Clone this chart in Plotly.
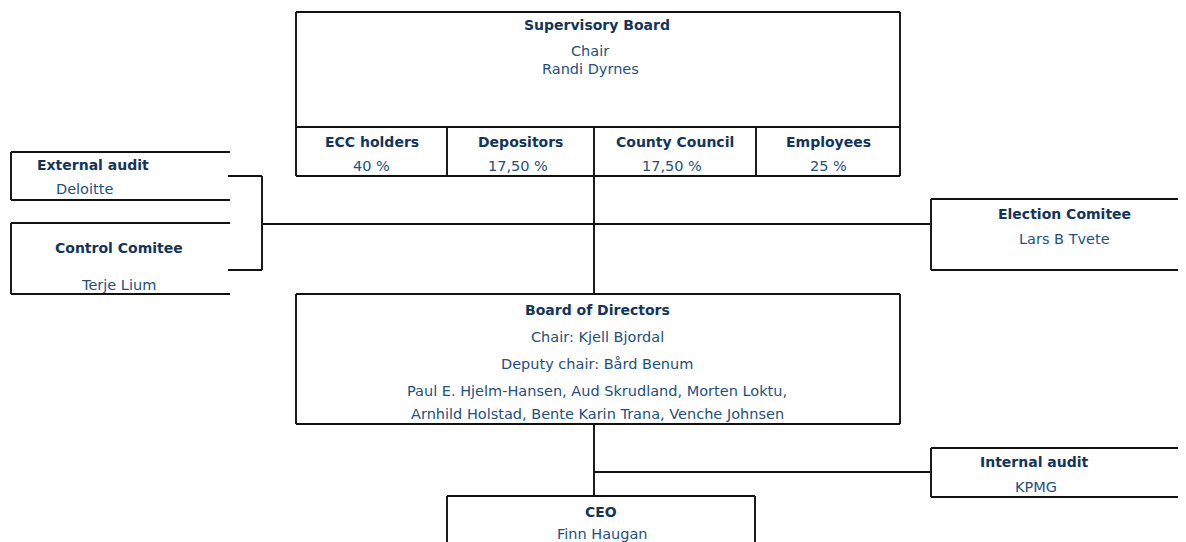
import plotly.graph_objects as go

# ---- data (text content) ----
sup_title = "Supervisory Board"
sup_lines = ["Chair", "Randi Dyrnes"]
sup_groups = ["ECC holders", "Depositors", "County Council", "Employees"]
sup_shares = ["40 %", "17,50 %", "17,50 %", "25 %"]

side_titles = ["External  audit", "Control Comitee", "Election  Comitee", "Internal  audit"]
side_names = ["Deloitte", "Terje Lium", "Lars B Tvete", "KPMG"]

bod_title = "Board of Directors"
bod_lines = ["Chair: Kjell Bjordal", "Deputy chair: Bård Benum",
             "Paul E. Hjelm-Hansen, Aud Skrudland, Morten Loktu,",
             "Arnhild Holstad, Bente Karin Trana, Venche Johnsen"]

ceo_title = "CEO"
ceo_name = "Finn Haugan"

# ---- layout geometry (pixel canvas; page has an 8px body margin) ----
W, H = 1186, 542
OFF = 8
BOLD_C = "#12355E"
TEXT_C = "#23507F"
LINE_C = "#111111"
FONT = "DejaVu Sans, Verdana, sans-serif"
BOLD_SIZE = 14
TEXT_SIZE = 14.5

fig = go.Figure()
shapes = []
annos = []

def line(x0, y0, x1, y1, w=1.9):
    shapes.append(dict(type="line", xref="x", yref="y", x0=x0, y0=y0, x1=x1, y1=y1,
                       line=dict(color=LINE_C, width=w)))

def box(x0, y0, x1, y1, sides="ltrb"):
    if "l" in sides: line(x0, y0, x0, y1)
    if "t" in sides: line(x0, y0, x1, y0)
    if "r" in sides: line(x1, y0, x1, y1)
    if "b" in sides: line(x0, y1, x1, y1)

def text(x, y, s, bold=False):
    annos.append(dict(x=x, y=y, xref="x", yref="y", text=f"<b>{s}</b>" if bold else s,
                      showarrow=False, xanchor="center", yanchor="middle",
                      font=dict(family=FONT, size=BOLD_SIZE if bold else TEXT_SIZE,
                                color=BOLD_C if bold else TEXT_C)))

# Supervisory board
sb = dict(x0=296, y0=12, x1=900, y1=127, y2=176)
box(sb["x0"], sb["y0"], sb["x1"], sb["y2"])
line(sb["x0"], sb["y1"], sb["x1"], sb["y1"])
cell_x = [296, 447, 594, 756, 900]
for cx in cell_x[1:-1]:
    line(cx, sb["y1"], cx, sb["y2"])
text(597, 25, sup_title, bold=True)
for i, s in enumerate(sup_lines):
    text(590, 51 + i * 18, s)
for i, (g, p) in enumerate(zip(sup_groups, sup_shares)):
    xc = (cell_x[i] + cell_x[i + 1]) / 2
    text(xc, 142, g, bold=True)
    text(xc - (3 if 0 < i < 3 else 0), 166, p)

# Connectors
line(594, 176, 594, 294)
line(262, 224, 931, 224)
line(228, 176, 262, 176)
line(228, 270, 262, 270)
line(262, 176, 262, 270)
line(594, 424, 594, 496)
line(594, 472, 931, 472)

# Side boxes
side_geo = [(11, 152, 230, 200), (11, 223, 230, 294), (931, 199, 1200, 270), (931, 448, 1200, 497)]
side_title_pos = [(93, 165), (119, 248), (1064, 214), (1034, 462)]
side_name_pos = [(84, 189), (118, 285), (1064, 239), (1036, 487)]
for (x0, y0, x1, y1), tp, npos, t, n in zip(side_geo, side_title_pos, side_name_pos, side_titles, side_names):
    box(x0, y0, x1, y1, sides="ltb")
    text(tp[0], tp[1], t.replace("  ", " "), bold=True)
    text(npos[0], npos[1], n)

# Board of directors
box(296, 294, 900, 424)
text(597, 310, bod_title, bold=True)
for y, s in zip([337, 364, 391, 414], bod_lines):
    text(597, y, s)

# CEO
box(447, 496, 755, 560, sides="ltr")
text(601, 512, ceo_title, bold=True)
text(602, 534, ceo_name)

fig.update_layout(
    width=W - OFF, height=H - OFF, margin=dict(l=0, r=0, t=0, b=0),
    paper_bgcolor="white", plot_bgcolor="white",
    xaxis=dict(range=[OFF, W], visible=False, fixedrange=True),
    yaxis=dict(range=[H, OFF], visible=False, fixedrange=True),
    shapes=shapes, annotations=annos, showlegend=False,
)
fig.write_html("out.html")
